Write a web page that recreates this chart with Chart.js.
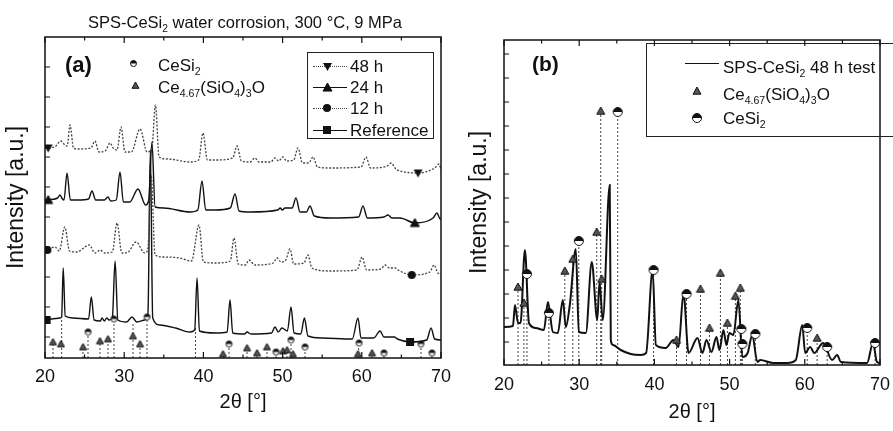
<!DOCTYPE html>
<html>
<head>
<meta charset="utf-8">
<script src="https://cdn.jsdelivr.net/npm/chart.js@4.4.1/dist/chart.umd.min.js"></script>
<style>
  body { margin: 0; background: #fff; }
  #fig { position: relative; width: 893px; height: 431px; overflow: hidden; background: #fff;
         font-family: "Liberation Sans", Arial, sans-serif; color: #111; }
  #fig canvas.plot { position: absolute; top: 0; }
  .t { position: absolute; white-space: nowrap; line-height: 1; }
  sub { font-size: 0.62em; vertical-align: -0.35em; line-height: 0; }
  .box { position: absolute; border: 1px solid #222; }
  .ln { position: absolute; height: 0; }
</style>
</head>
<body>
<div id="fig">
  <canvas id="chartA" class="plot" width="452" height="431" style="left:0"></canvas>
  <canvas id="chartB" class="plot" width="441" height="431" style="left:452px"></canvas>

  <div class="t" style="left:88px;top:14px;font-size:16.5px">SPS-CeSi<sub>2</sub> water corrosion, 300 &deg;C, 9 MPa</div>

  <div class="t" style="left:65px;top:54px;font-size:22px;font-weight:bold">(a)</div>
  <div class="t" style="left:158px;top:57px;font-size:17px">CeSi<sub>2</sub></div>
  <div class="t" style="left:158px;top:79px;font-size:17px">Ce<sub>4.67</sub>(SiO<sub>4</sub>)<sub>3</sub>O</div>

  <div class="box" style="left:307px;top:52px;width:125px;height:85px"></div>
  <div class="ln" style="left:313px;top:66px;width:34px;border-top:1.5px dotted #444"></div>
  <div class="ln" style="left:313px;top:87px;width:34px;border-top:1.5px solid #111"></div>
  <div class="ln" style="left:313px;top:108px;width:34px;border-top:1.5px dotted #444"></div>
  <div class="ln" style="left:313px;top:130px;width:34px;border-top:1.5px solid #111"></div>
  <div class="t" style="left:350px;top:58px;font-size:17px">48 h</div>
  <div class="t" style="left:350px;top:79px;font-size:17px">24 h</div>
  <div class="t" style="left:350px;top:100px;font-size:17px">12 h</div>
  <div class="t" style="left:350px;top:122px;font-size:17px">Reference</div>

  <div class="t" style="left:532px;top:53px;font-size:21px;font-weight:bold">(b)</div>
  <div class="box" style="left:646px;top:43px;width:260px;height:92px"></div>
  <div class="ln" style="left:685px;top:63px;width:34px;border-top:1.2px solid #111"></div>
  <div class="t" style="left:723px;top:59px;font-size:17px">SPS-CeSi<sub>2</sub> 48 h test</div>
  <div class="t" style="left:723px;top:86px;font-size:17px">Ce<sub>4.67</sub>(SiO<sub>4</sub>)<sub>3</sub>O</div>
  <div class="t" style="left:723px;top:110px;font-size:17px">CeSi<sub>2</sub></div>
</div>

<script>
const family = "'Liberation Sans', Arial, sans-serif";

// axis ticks
const xMajor = [20, 30, 40, 50, 60, 70];
const xMinor = [25, 35, 45, 55, 65];
const yTicksA = [21, 51, 81, 111, 141, 171, 201, 231, 261, 291];
const yTicksB = [23, 47, 71, 95, 119, 143, 167, 191, 215, 239, 263, 287, 311];

// panel (a) - reference
const refX = [20.0, 21.9, 22.1, 22.3, 22.55, 23.5, 25.5, 25.85, 26.2, 27.0, 27.2, 27.5, 27.8, 28.1, 28.5, 28.85, 29.2, 30.3, 30.98, 31.6,
  32.6, 33.0, 33.3, 33.6, 34.5, 36.5, 38.3, 38.9, 39.2, 39.5, 41.5, 43.0, 43.36, 43.7, 45.2, 45.5, 46.0, 48.6, 49.04, 49.45,
  49.92, 50.6, 51.06, 51.45, 52.3, 52.75, 53.2, 55.0, 58.8, 59.52, 59.9, 61.5, 62.3, 62.8, 64.1, 64.5, 66.1, 68.2, 68.74, 69.2, 70.0];
const refY = [38, 40, 41, 90, 42, 40, 39, 61, 38, 37, 40, 37, 40, 38, 40, 97, 38, 36, 41, 36,
  38, 45, 208, 40, 33, 30, 26, 28, 80, 27, 25, 26, 58, 25, 24, 26, 24, 25, 31, 26,
  30, 27, 51, 25, 24, 40, 22, 20, 19, 40, 20, 20, 27, 21, 21, 19, 16, 18, 30, 19, 18];

// panel (a) - 12 h
const h12X = [20.0, 21.26, 21.8, 22.5, 23.1, 24.0, 25.6, 26.3, 27.0, 27.5, 28.5, 29.1, 29.7, 30.5, 31.5, 32.6, 33.0, 33.4, 33.9, 35.0,
  37.0, 38.5, 39.44, 40.0, 41.5, 43.4, 43.86, 44.4, 45.3, 45.76, 46.5, 48.8, 49.3, 49.8, 50.4, 50.93, 51.4, 52.7, 53.2, 53.7,
  56.0, 59.4, 60.03, 60.6, 62.4, 62.93, 63.5, 64.19, 64.8, 66.3, 68.6, 69.12, 69.6, 70.0];
const h12Y = [108, 111, 107, 131, 107, 106, 113, 105, 108, 105, 106, 135, 105, 106, 116, 105, 110, 183, 103, 101,
  100, 97, 133, 96, 95, 97, 120, 94, 93, 98, 93, 95, 100, 96, 98, 109, 94, 95, 103, 90,
  87, 88, 101, 88, 89, 93, 90, 90, 87, 83, 86, 93, 85, 84];

// panel (a) - 24 h
const h24X = [20.0, 21.6, 21.89, 22.2, 22.4, 22.78, 23.2, 24.2, 25.5, 25.93, 26.4, 27.5, 27.95, 28.3, 29.0, 29.47, 29.9, 30.7, 31.74, 32.7,
  33.1, 33.5, 33.9, 35.0, 38.3, 39.3, 39.82, 40.3, 41.5, 43.4, 43.99, 44.5, 45.9, 49.4, 49.7, 49.95, 50.3, 51.2, 51.69, 52.2,
  53.0, 53.46, 54.0, 56.0, 59.6, 60.15, 60.7, 62.8, 63.31, 63.8, 64.82, 66.72, 69.0, 69.49, 69.9, 70.0];
const h24Y = [158, 160, 163, 159, 158, 185, 158, 158, 159, 167, 158, 158, 161, 157, 158, 186, 156, 156, 169, 153,
  158, 216, 151, 150, 146, 148, 177, 148, 148, 150, 164, 147, 146, 148, 150, 148, 150, 150, 160, 146,
  146, 152, 142, 140, 141, 152, 140, 141, 143, 140, 140, 135, 140, 145, 139, 139];

// panel (a) - 48 h
const h48X = [20.0, 21.2, 22.02, 22.5, 22.8, 23.16, 23.6, 24.17, 25.8, 26.31, 26.8, 27.6, 28.21, 28.59, 29.1, 29.6, 30.1, 30.9, 32.0, 32.9,
  33.5, 33.95, 34.4, 35.5, 38.31, 39.4, 39.95, 40.5, 41.46, 43.7, 44.24, 44.8, 45.9, 46.52, 47.0, 48.5, 49.04, 49.5, 50.05, 50.5,
  51.4, 51.94, 52.5, 53.3, 53.84, 54.4, 56.0, 59.9, 60.53, 61.1, 63.2, 63.69, 64.3, 64.82, 67.1, 69.2, 69.75, 70.0];
const h48Y = [210, 211, 217, 213, 212, 233, 210, 209, 210, 217, 206, 207, 215, 210, 208, 231, 206, 206, 229, 206,
  210, 253, 201, 199, 196, 198, 225, 198, 198, 200, 212, 197, 196, 200, 196, 196, 200, 197, 201, 197,
  198, 210, 195, 195, 201, 191, 190, 191, 201, 190, 192, 195, 189, 187, 185, 190, 194, 188];

// curve symbols in (a)
const sym48X = [20.4, 67.1], sym48Y = [210, 185];
const sym24X = [20.4, 66.7], sym24Y = [158, 135];
const sym12X = [20.3, 66.3], sym12Y = [108, 83];
const symRefX = [20.2, 66.1], symRefY = [38, 16];

// phase markers in (a)
const triAX = [21.01, 22.02, 24.80, 26.94, 27.95, 31.11, 32.00, 42.47, 45.51, 46.77, 48.03, 50.05, 50.56, 51.31, 59.52, 61.29];
const triAY = [16, 14, 11, 17, 19, 22, 14, 4, 10, 5, 11, 7, 8, 4, 4, 5];
const cirAX = [25.43, 28.71, 32.88, 43.23, 49.17, 51.06, 52.83, 59.65, 62.80, 67.47, 68.86];
const cirAY = [26, 39, 41, 14, 6, 18, 11, 15, 5, 14, 5];
const stickAX = [21.01, 22.1, 24.80, 25.43, 26.94, 27.95, 28.71, 31.11, 32.00, 32.88, 39.0, 42.47, 43.23, 45.51, 46.77, 48.03,
  49.17, 50.05, 50.56, 51.06, 51.31, 52.83, 59.6, 61.29, 62.80, 67.47, 68.86];
const stickAY = [16, 38, 11, 26, 17, 19, 39, 36, 14, 41, 30, 4, 14, 10, 5, 11, 6, 7, 8, 18, 4, 11, 18, 5, 5, 14, 5];

// panel (b) - 48 h test
const bX = [20.0, 21.19, 21.46, 21.86, 22.2, 22.78, 23.32, 24.24, 25.31, 25.84, 26.50, 27.16, 27.82, 28.22, 28.75, 29.55, 29.95, 30.88, 31.67, 32.4,
  32.7, 33.13, 34.06, 34.2, 34.5, 35.52, 36.84, 38.17, 38.9, 39.76, 40.2, 41.49, 42.55, 43.21, 43.87, 44.54, 45.73, 46.39, 46.92, 47.59,
  48.25, 48.65, 49.18, 49.58, 49.97, 50.5, 51.17, 51.7, 52.4, 53.02, 53.69, 54.08, 55.81, 57.67, 58.8, 59.66, 60.05, 60.72, 61.25, 62.44,
  63.63, 64.30, 64.8, 68.28, 69.07, 69.6, 70.0];
const bY = [38, 39, 60, 42, 42, 115, 42, 37, 35, 63, 33, 32, 65, 38, 60, 116, 33, 32, 103, 45,
  83, 45, 180, 25, 20, 15, 11, 10, 12, 95, 20, 17, 25, 18, 72, 12, 27, 12, 25, 13,
  28, 15, 35, 20, 32, 30, 65, 8, 12, 30, 3, 5, 2, 2, 5, 40, 12, 18, 12, 22,
  5, 10, 3, 2, 22, 3, 2];

// phase markers in (b)
const triBX = [21.86, 22.65, 28.09, 29.15, 32.33, 32.99, 32.86, 42.94, 46.13, 47.32, 48.78, 49.71, 50.77, 51.43, 61.64];
const triBY = [78, 62, 94, 106, 133, 86, 254, 25, 76, 37, 92, 42, 69, 77, 27];
const cirBX = [23.05, 25.97, 29.95, 35.12, 39.89, 44.27, 51.56, 51.70, 53.42, 60.32, 62.97, 69.34];
const cirBY = [91, 52, 124, 253, 95, 71, 36, 21, 31, 37, 18, 22];

const pts = (xs, ys) => xs.map((x, i) => ({x: x, y: ys[i]}));
function sticks(xs, ys) {
  const out = [];
  xs.forEach((x, i) => out.push({x: x, y: 0}, {x: x, y: ys[i]}, {x: x, y: null}));
  return out;
}

function makeIcon(kind, s) {
  const c = document.createElement('canvas');
  c.width = c.height = s + 2;
  const g = c.getContext('2d');
  const m = (s + 2) / 2, r = s / 2;
  g.fillStyle = '#111';
  g.strokeStyle = '#111';
  g.lineWidth = 1;
  g.beginPath();
  if (kind === 'dot') {
    g.arc(m, m, r, 0, 2 * Math.PI);
    g.fill();
  } else if (kind === 'square') {
    g.fillRect(m - r, m - r, s, s);
  } else if (kind === 'up' || kind === 'tri') {
    g.moveTo(m, m - r);
    g.lineTo(m + r, m + r * 0.8);
    g.lineTo(m - r, m + r * 0.8);
    g.closePath();
    if (kind === 'tri') g.fillStyle = '#555';
    g.fill();
    g.stroke();
  } else if (kind === 'down') {
    g.moveTo(m - r, m - r * 0.8);
    g.lineTo(m + r, m - r * 0.8);
    g.lineTo(m, m + r);
    g.closePath();
    g.fill();
  } else if (kind === 'half') {
    g.fillStyle = '#fff';
    g.arc(m, m, r - 0.5, 0, 2 * Math.PI);
    g.fill();
    g.beginPath();
    g.fillStyle = '#111';
    g.arc(m, m, r - 0.5, Math.PI, 2 * Math.PI);
    g.closePath();
    g.fill();
    g.beginPath();
    g.arc(m, m, r - 0.5, 0, 2 * Math.PI);
    g.stroke();
  }
  return c;
}

const fig = document.getElementById('fig');
function placeIcon(icon, cx, cy) {
  const c = document.createElement('canvas');
  c.width = icon.width;
  c.height = icon.height;
  c.getContext('2d').drawImage(icon, 0, 0);
  c.style.cssText = 'position:absolute;left:' + (cx - icon.width / 2) + 'px;top:' + (cy - icon.height / 2) + 'px';
  fig.appendChild(c);
}

const icons = {
  down: makeIcon('down', 9), up: makeIcon('up', 9), dot: makeIcon('dot', 8), square: makeIcon('square', 8),
  halfA: makeIcon('half', 7), triA: makeIcon('tri', 7), halfB: makeIcon('half', 10), triB: makeIcon('tri', 8)
};

// frame + inward ticks
const frameTicks = {
  id: 'frameTicks',
  afterDraw(chart, args, opts) {
    const {ctx, chartArea: a, scales: {x, y}} = chart;
    ctx.save();
    ctx.strokeStyle = '#111';
    ctx.lineWidth = 1.5;
    ctx.strokeRect(a.left, a.top, a.right - a.left, a.bottom - a.top);
    ctx.lineWidth = 1.2;
    ctx.beginPath();
    xMajor.concat(xMinor).forEach(v => {
      const px = x.getPixelForValue(v);
      const len = xMajor.includes(v) ? 6 : 3.5;
      ctx.moveTo(px, a.bottom); ctx.lineTo(px, a.bottom - len);
      ctx.moveTo(px, a.top); ctx.lineTo(px, a.top + len);
    });
    opts.yTicks.forEach(v => {
      const py = y.getPixelForValue(v);
      ctx.moveTo(a.left, py); ctx.lineTo(a.left + 5, py);
    });
    ctx.stroke();
    ctx.restore();
  }
};

function scalesFor(p) {
  return {
    x: {
      type: 'linear', min: 20, max: 70,
      afterBuildTicks: s => { s.ticks = xMajor.map(v => ({value: v})); },
      ticks: { font: {size: 18, family: family}, color: '#111', padding: p.tickPad, maxRotation: 0, autoSkip: false },
      grid: { display: false, drawTicks: false },
      border: { display: false },
      title: { display: true, text: '2θ [°]', font: {size: 20, family: family}, color: '#111', padding: {top: 0, bottom: p.xTitlePad} },
      afterFit: s => { s.height = p.xHeight; s.paddingLeft = 0; s.paddingRight = 0; }
    },
    y: {
      min: 0, max: p.yMax,
      ticks: { display: false },
      grid: { display: false, drawTicks: false },
      border: { display: false },
      title: { display: true, text: 'Intensity [a.u.]', font: {size: 23, family: family}, color: '#111', padding: {top: p.yTitlePad, bottom: 0} },
      afterFit: s => { s.width = p.yWidth; s.paddingTop = 0; s.paddingBottom = 0; }
    }
  };
}

const markerSet = (data, icon) => ({ data: data, showLine: false, pointStyle: icon, pointRadius: 4, borderWidth: 0 });
const curve = (data, dashed, width) => ({
  data: data, borderColor: dashed ? '#444' : '#111', borderWidth: width, borderDash: dashed ? [2, 1.6] : [],
  pointRadius: 0, cubicInterpolationMode: 'monotone', fill: false
});
const stickSet = data => ({ data: data, borderColor: '#444', borderWidth: 1, borderDash: [2, 2], pointRadius: 0, spanGaps: false, tension: 0 });

new Chart(document.getElementById('chartA'), {
  type: 'line',
  data: {
    datasets: [
      markerSet(pts(sym48X, sym48Y), icons.down),
      markerSet(pts(sym24X, sym24Y), icons.up),
      markerSet(pts(sym12X, sym12Y), icons.dot),
      markerSet(pts(symRefX, symRefY), icons.square),
      markerSet(pts(triAX, triAY), icons.triA),
      markerSet(pts(cirAX, cirAY), icons.halfA),
      curve(pts(h48X, h48Y), true, 1.3),
      curve(pts(h24X, h24Y), false, 1.4),
      curve(pts(h12X, h12Y), true, 1.3),
      curve(pts(refX, refY), false, 1.4),
      stickSet(sticks(stickAX, stickAY))
    ]
  },
  options: {
    responsive: false, animation: false, events: [],
    layout: { padding: {left: 0, right: 11, top: 37, bottom: 0} },
    plugins: { legend: {display: false}, tooltip: {enabled: false}, frameTicks: {yTicks: yTicksA} },
    scales: scalesFor({tickPad: 8, xTitlePad: 17, xHeight: 73, yMax: 321, yTitlePad: 3, yWidth: 45})
  },
  plugins: [frameTicks]
});

new Chart(document.getElementById('chartB'), {
  type: 'line',
  data: {
    datasets: [
      markerSet(pts(triBX, triBY), icons.triB),
      markerSet(pts(cirBX, cirBY), icons.halfB),
      curve(pts(bX, bY), false, 2),
      stickSet(sticks(triBX.concat(cirBX), triBY.concat(cirBY)))
    ]
  },
  options: {
    responsive: false, animation: false, events: [],
    layout: { padding: {left: 0, right: 13, top: 40, bottom: 0} },
    plugins: { legend: {display: false}, tooltip: {enabled: false}, frameTicks: {yTicks: yTicksB} },
    scales: scalesFor({tickPad: 9, xTitlePad: 7, xHeight: 66, yMax: 325, yTitlePad: 14, yWidth: 52})
  },
  plugins: [frameTicks]
});

// legend symbols
placeIcon(icons.halfA, 133, 63);
placeIcon(icons.triA, 135, 85);
placeIcon(icons.down, 327, 66);
placeIcon(icons.up, 327, 87);
placeIcon(icons.dot, 327, 108);
placeIcon(icons.square, 327, 130);
placeIcon(icons.triB, 697, 91);
placeIcon(icons.halfB, 697, 118);
</script>
</body>
</html>
